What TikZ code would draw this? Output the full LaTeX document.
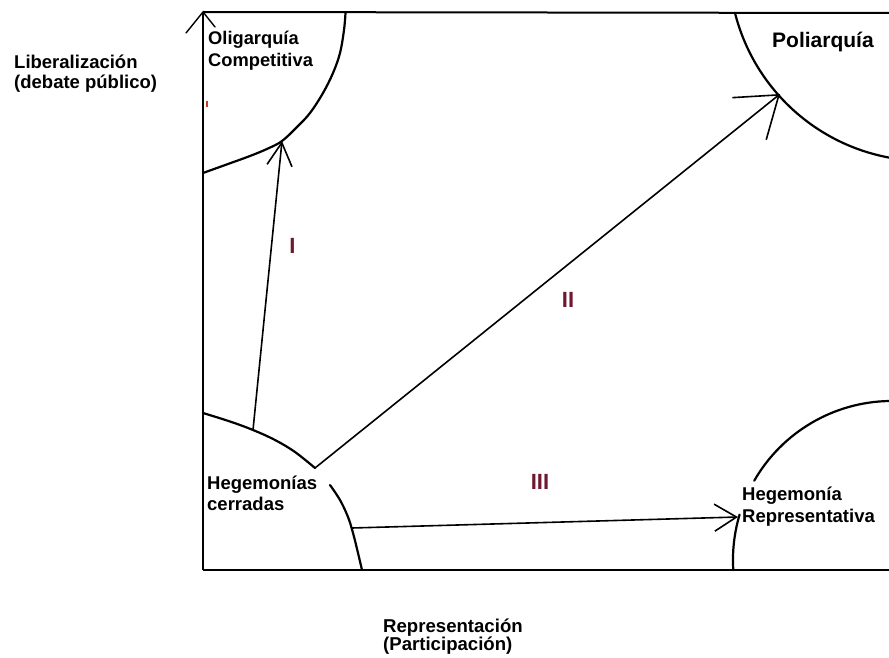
\documentclass[tikz,border=0pt]{standalone}
\usepackage{fontspec}
\setmainfont{Liberation Sans}
\usetikzlibrary{arrows.meta}
\definecolor{numcol}{HTML}{701830}
\definecolor{tickred}{HTML}{C04020}
\begin{document}
\begin{tikzpicture}[x=1pt,y=-1pt,
  lbl/.style={font=\fontsize{18.5}{21}\selectfont\bfseries, inner sep=0, anchor=base west, align=left},
  numlbl/.style={font=\fontsize{22}{24}\selectfont\bfseries, text=numcol, inner sep=0, anchor=base},
  curve/.style={line width=2.2pt, line join=round, line cap=round},
  axisline/.style={line width=1.4pt},
  conn/.style={line width=1.6pt, line cap=round},
]
\path[use as bounding box, fill=white] (0,0) rectangle (889,658);

% frame
\coordinate (o) at (203,570);
\coordinate (ytop) at (203,12);
\coordinate (xright) at (889,570);
\coordinate (tright) at (889,13);
\coordinate (ybarbL) at (186,33);
\coordinate (ybarbR) at (215,27);
\draw[axisline] (o) -- (ytop);
\draw[line width=2pt] (ytop) -- (tright);
\draw[line width=1.2pt] (o) -- (xright);
\draw[axisline, line cap=round] (ybarbL) -- (ytop) -- (ybarbR);
\draw[tickred, line width=1.2pt] (207,101) -- (207,107);

% region boundaries
\draw[curve] plot[smooth, tension=0.6] coordinates {(345.5,13) (344,30) (340,53) (333,73) (323,93) (310,113) (297,127) (282,141) (268,148.5) (250,156) (228,164) (203,173)};
\draw[curve] (735,13) arc[start angle=165.8, end angle=100.6, radius=196];
\draw[curve] plot[smooth, tension=0.6] coordinates {(203,413) (230,421.5) (253,430) (275,440) (295,452) (315,468)};
\draw[curve] plot[smooth, tension=0.6] coordinates {(330,485) (340,500) (348,517) (353,533) (358,553) (362,570)};
\draw[curve] (889,401) arc[start angle=268.9, end angle=209.9, radius=159];
\draw[curve] (739.6,514.6) arc[start angle=196.6, end angle=176.4, radius=159];

% connector end points
\coordinate (hcI) at (253,430);
\coordinate (hcII) at (315,468);
\coordinate (hcIII) at (352,528);
\coordinate (ocI) at (282,141);
\coordinate (poII) at (780,94);
\coordinate (hrIII) at (738,517);

\draw[conn, -{Straight Barb[length=23pt, width=25pt, line width=1.6pt]}] (hcI) -- (ocI);
\draw[conn, -{Straight Barb[length=38pt, width=54pt, line width=1.6pt]}] (hcII) -- (poII);
\draw[conn, -{Straight Barb[length=22pt, width=27pt, line width=1.6pt]}] (hcIII) -- (hrIII);

% labels (base anchor = last line baseline)
\node[lbl, font=\fontsize{18.5}{19.5}\selectfont\bfseries] (liberal) at (14,88.5) {Liberalización\\(debate público)};
\node[lbl, font=\fontsize{18.3}{22}\selectfont\bfseries] (olig) at (208,67) {Oligarquía\\Competitiva};
\node[lbl, font=\fontsize{21}{24}\selectfont\bfseries] (poli) at (772,48) {Poliarquía};
\node[lbl] (hegc) at (207,510) {Hegemonías\\cerradas};
\node[lbl, font=\fontsize{18.5}{22}\selectfont\bfseries] (hegr) at (742,522) {Hegemonía\\Representativa};
\node[lbl, font=\fontsize{18.6}{18}\selectfont\bfseries] (repr) at (383,650) {Representación\\(Participación)};

\node[numlbl] (nI) at (292.5,253) {I};
\node[numlbl] (nII) at (568,307) {II};
\node[numlbl] (nIII) at (540,489) {III};
\end{tikzpicture}
\end{document}
